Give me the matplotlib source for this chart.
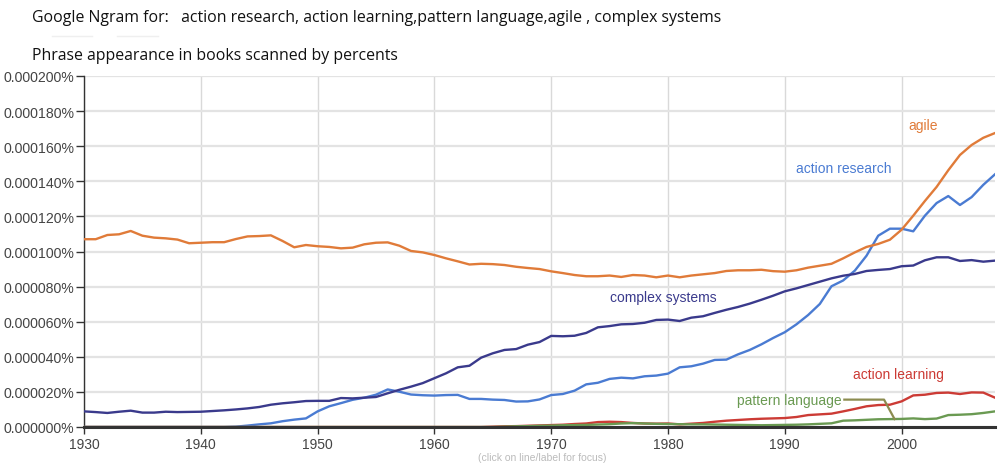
import numpy as np
import matplotlib
matplotlib.use('Agg')
import matplotlib.pyplot as plt
from matplotlib.ticker import FuncFormatter

# Ngram values, in units of 0.000001 %
years = list(range(1930, 2009))

agile = [107, 107, 109.4, 109.8, 111.7, 109, 107.9, 107.5, 106.8, 104.7,
         105, 105.3, 105.3, 107.1, 108.6, 108.8, 109.2, 106, 102.4, 103.7,
         103, 102.6, 101.8, 102.2, 104.1, 105, 105.2, 103.3, 100.3, 99.5,
         98, 96.1, 94.4, 92.6, 93, 92.8, 92.3, 91.3, 90.6, 90,
         88.7, 87.7, 86.6, 85.9, 85.9, 86.3, 85.5, 86.6, 86.3, 85.3,
         86.3, 85.3, 86.3, 87, 87.7, 88.9, 89.3, 89.3, 89.6, 88.8,
         88.5, 89.3, 90.8, 91.9, 93, 96.1, 99.5, 102.6, 104.3, 106.7,
         112.4, 120.4, 128.8, 136.8, 146.3, 155, 160.7, 164.8, 167.5]

action_research = [0, 0, 0, 0, 0, 0, 0, 0, 0, 0,
                   0, 0, 0, 0.2, 0.8, 1.5, 2.1, 3.3, 4.2, 4.9,
                   8.9, 11.8, 13.6, 15.5, 16.7, 18.4, 21.4, 20.1, 18.5, 18.1,
                   17.9, 18.2, 18.3, 16, 16, 15.6, 15.4, 14.5, 14.6, 15.7,
                   18.2, 18.8, 20.7, 24.3, 25.2, 27.4, 28.1, 27.7, 28.9, 29.3,
                   30.4, 34, 34.6, 36.1, 38.2, 38.4, 41.4, 43.9, 47.1, 50.7,
                   54, 58.5, 63.8, 70.1, 80.2, 83.5, 89.1, 97.6, 109, 113,
                   113, 111.5, 120.4, 127.6, 131.6, 126.5, 131, 138, 144]

complex_systems = [8.9, 8.5, 8, 8.7, 9.3, 8.2, 8.2, 8.7, 8.5, 8.6,
                   8.7, 9.1, 9.5, 10, 10.6, 11.4, 12.7, 13.5, 14.1, 14.8,
                   14.9, 14.9, 16.5, 16.3, 16.7, 17.1, 19.2, 21.2, 23, 25,
                   27.8, 30.6, 34, 34.9, 39.5, 42, 43.9, 44.4, 46.9, 48.4,
                   51.9, 51.7, 52, 53.6, 56.8, 57.5, 58.5, 58.7, 59.4, 61,
                   61.2, 60.4, 62.3, 63.1, 65, 66.8, 68.4, 70.3, 72.5, 74.8,
                   77.3, 79, 80.9, 82.8, 84.7, 86.2, 87.2, 88.9, 89.5, 90,
                   91.6, 92, 95, 96.7, 96.7, 94.6, 95.1, 94.2, 94.8]

action_learning = [0, 0, 0, 0, 0, 0, 0, 0, 0, 0,
                   0, 0, 0, 0, 0, 0, 0, 0, 0, 0,
                   0, 0, 0, 0, 0, 0, 0, 0, 0, 0,
                   0, 0, 0, 0, 0, 0.2, 0.4, 0.5, 0.7, 0.9,
                   1.1, 1.3, 1.7, 2, 2.8, 3, 2.8, 2.3, 2, 1.9,
                   2, 1.5, 1.9, 2.3, 3, 3.6, 4, 4.4, 4.7, 4.9,
                   5.1, 5.7, 6.8, 7.2, 7.6, 8.9, 10.3, 11.8, 12.5, 12.7,
                   14.6, 18, 18.4, 19.4, 19.6, 18.8, 19.7, 19.6, 16.7]

pattern_language = [0, 0, 0, 0, 0, 0, 0, 0, 0, 0,
                    0, 0, 0, 0, 0, 0, 0, 0, 0, 0,
                    0, 0, 0, 0, 0, 0, 0, 0, 0, 0,
                    0, 0, 0, 0, 0, 0, 0.2, 0.4, 0.5, 0.7,
                    0.8, 1, 1.1, 1.2, 1.4, 1.6, 2, 2.2, 2, 1.8,
                    1.7, 1.6, 1.5, 1.5, 1.4, 1.3, 1.2, 1.1, 1, 1.1,
                    1.2, 1.3, 1.5, 1.8, 2.1, 3.6, 3.8, 4.1, 4.4, 4.5,
                    4.6, 4.9, 4.5, 4.8, 6.8, 7, 7.3, 8, 8.9]

c_agile = '#e07b39'
c_research = '#4a7bd2'
c_complex = '#3a3a8c'
c_learning = '#cc3b35'
c_pattern = '#6a9a52'

fig = plt.figure(figsize=(10.06, 4.64), dpi=100)
ax = fig.add_axes([84/1006, 1 - 428/464, 911/1006, 351/464])

lw = 1.7
ax.plot(years, action_research, color=c_research, lw=lw, zorder=3)
ax.plot(years, action_learning, color=c_learning, lw=lw, zorder=3)
ax.plot(years, agile, color=c_agile, lw=lw, zorder=3)
ax.plot(years, complex_systems, color=c_complex, lw=lw, zorder=3)
ax.plot(years, pattern_language, color=c_pattern, lw=lw, zorder=3)

ax.set_xlim(1930, 2008)
ax.set_ylim(0, 200)
ax.set_xticks(range(1930, 2009, 10))
ax.set_yticks(range(0, 201, 20))
ax.yaxis.set_major_formatter(FuncFormatter(lambda v, p: '%.6f%%' % (v * 1e-6)))

ax.grid(axis='y', color='#e3e3e3', lw=1.6, zorder=0)
ax.grid(axis='x', color='#d9d9d9', lw=1.0, zorder=0)
for s in ['top', 'right']:
    ax.spines[s].set_visible(False)
ax.spines['left'].set_color('#333333')
ax.spines['left'].set_linewidth(1.0)
ax.spines['bottom'].set_color('#333333')
ax.spines['bottom'].set_linewidth(2.2)
ax.spines['bottom'].set_zorder(4)
ax.tick_params(axis='y', length=6, width=1, color='#333333', pad=1,
               labelsize=10.2, labelcolor='#444444')
ax.tick_params(axis='x', length=5, width=1, color='#333333', pad=2,
               labelsize=10, labelcolor='#444444')
for t in ax.get_xticklabels() + ax.get_yticklabels():
    t.set_family('Liberation Sans')

# series labels
lab = dict(fontsize=10, family='Liberation Sans', va='center')
ax.text(2000.6, 172, 'agile', color=c_agile, **lab)
ax.text(1991.0, 147.6, 'action research', color=c_research, **lab)
ax.text(1975.0, 74, 'complex systems', color=c_complex, **lab)
ax.text(1995.8, 30.2, 'action learning', color=c_learning, **lab)
ax.text(1994.9, 15.6, 'pattern language', color=c_pattern, ha='right', **lab)
# leader from pattern language label to its line
ax.plot([1995.1, 1998.5, 1999.4], [15.6, 15.6, pattern_language[69]],
        color='#8c8c50', lw=1.6, zorder=3, clip_on=False)

fig.text(32/1006, 1 - 18/464, 'Google Ngram for:   action research, action learning,pattern language,agile , complex systems',
         fontsize=11.4, family='Open Sans', va='center', color='#111111')
fig.text(32/1006, 1 - 56/464, 'Phrase appearance in books scanned by percents',
         fontsize=11.4, family='Open Sans', va='center', color='#111111')
# faint marks under the title
fig.add_artist(plt.Line2D([52/1006, 92/1006], [1 - 37/464] * 2, color='#efefef', lw=1))
fig.add_artist(plt.Line2D([117/1006, 158/1006], [1 - 37/464] * 2, color='#efefef', lw=1))
fig.text(478/1006, 1 - 463/464, '(click on line/label for focus)', fontsize=7.5,
         family='Liberation Sans', color='#bbbbbb', va='bottom')

plt.savefig('out.png', dpi=100, facecolor='w')
